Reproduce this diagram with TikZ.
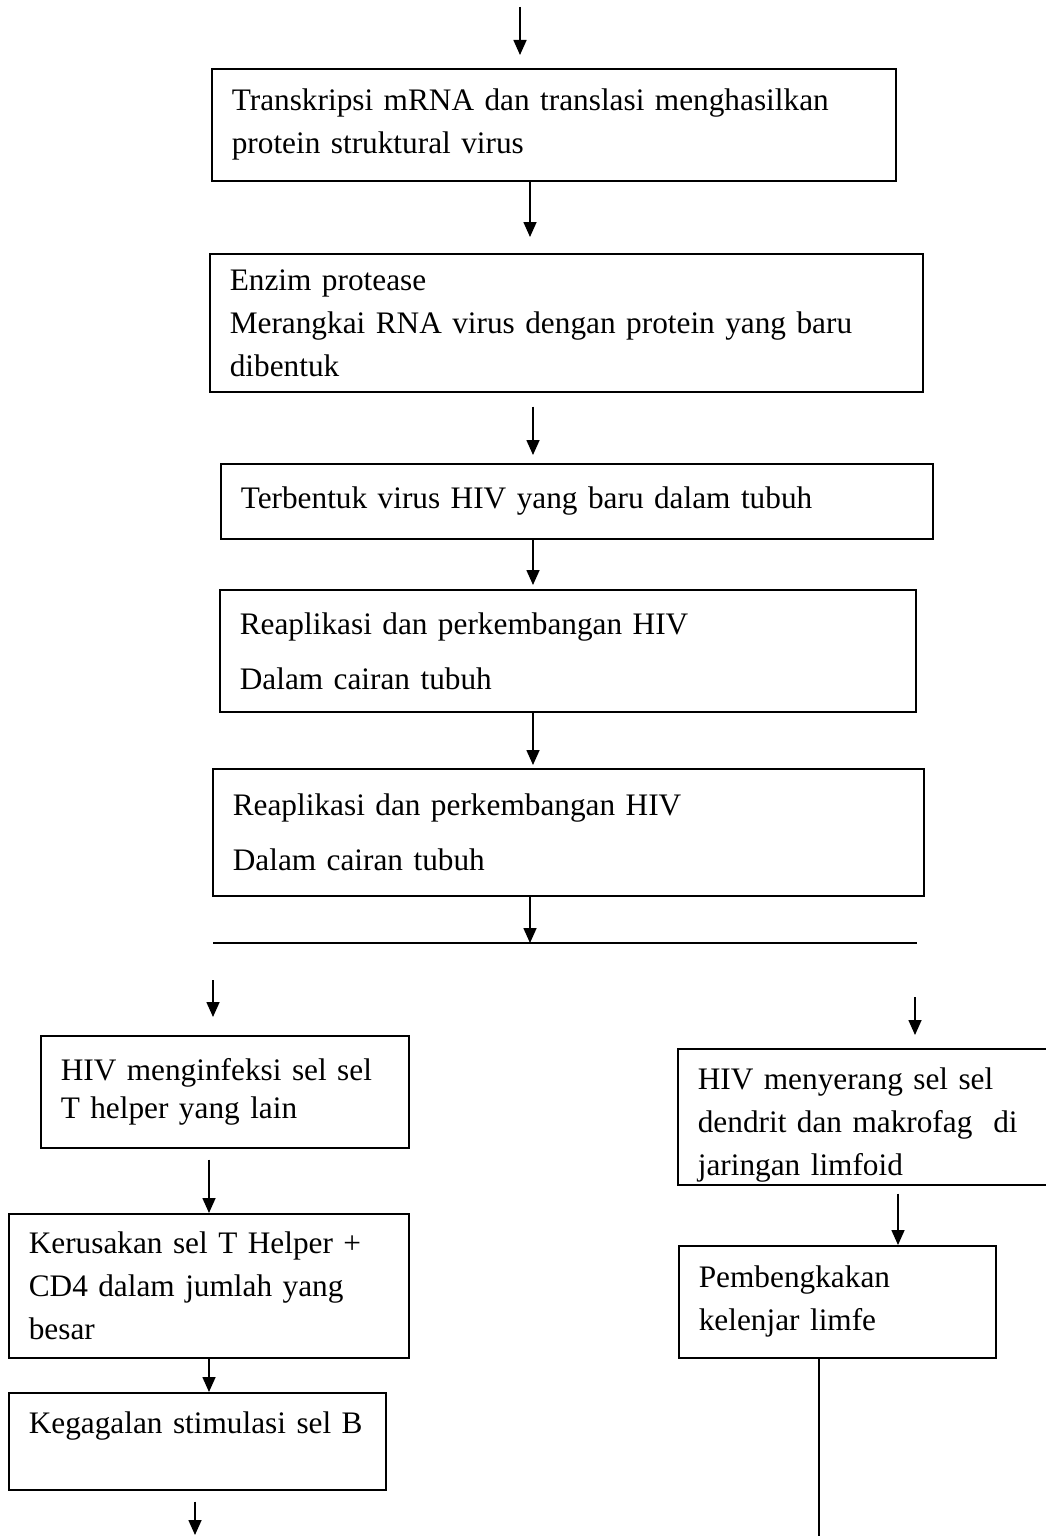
\documentclass[tikz,border=0pt]{standalone}
\usepackage{fontspec}
\setmainfont{Liberation Serif}
\usetikzlibrary{arrows.meta}

\begin{document}
\begin{tikzpicture}[
  x=1pt, y=-1pt,
  every node/.style={font=\fontsize{31.3}{43}\selectfont},
  box/.style={draw, line width=1.6pt, anchor=north west, align=left, inner xsep=20pt, inner ysep=0pt},
  arr/.style={line width=1.6pt, -{Triangle[length=15pt, width=13pt]}},
  link/.style={line width=1.6pt}
]
\useasboundingbox (0,0) rectangle (1045,1536);
% main column
\node[box, text width=644pt, minimum height=112pt] (transkripsi) at (211,68)
  {Transkripsi mRNA dan translasi menghasilkan\\protein struktural virus};
\node[box, text width=673pt, minimum height=138pt] (protease) at (209,253)
  {Enzim protease\\Merangkai RNA virus dengan protein yang baru\\dibentuk};
\node[box, text width=672pt, minimum height=75pt] (terbentuk) at (220,463)
  {Terbentuk virus HIV yang baru dalam tubuh};
\node[box, text width=656pt, minimum height=122pt] (replikasiA) at (219,589)
  {Reaplikasi dan perkembangan HIV\\[12pt]Dalam cairan tubuh};
\node[box, text width=671pt, minimum height=127pt] (replikasiB) at (212,768)
  {Reaplikasi dan perkembangan HIV\\[12pt]Dalam cairan tubuh};
% left branch
\node[box, text width=328pt, minimum height=112pt, font=\fontsize{31.3}{38}\selectfont] (infeksi) at (40,1035)
  {HIV menginfeksi sel sel\\T helper yang lain};
\node[box, text width=360pt, minimum height=144pt] (kerusakan) at (8,1213)
  {Kerusakan sel T Helper +\\CD4 dalam jumlah yang\\besar};
\node[box, text width=337pt, minimum height=97pt, text depth=37pt] (kegagalan) at (8,1392)
  {\mbox{Kegagalan stimulasi sel B}};
% right branch
\node[box, text width=343pt, minimum height=136pt] (menyerang) at (677,1048)
  {\rule{0pt}{38pt}HIV menyerang sel sel\\dendrit dan makrofag\ \ di\\jaringan limfoid};
\node[box, text width=277pt, minimum height=112pt] (bengkak) at (678,1245)
  {Pembengkakan\\kelenjar limfe};

\coordinate (mulai) at (520,7);
\coordinate (tengah) at (530,0);
\coordinate (tengahB) at (533,0);
\coordinate (cabang) at (530,943);
\coordinate (cabangW) at (213,943);
\coordinate (cabangE) at (917,943);
\coordinate (kiri) at (213,980);
\coordinate (kiriB) at (209,0);
\coordinate (akhirL) at (195,1535);
\coordinate (kanan) at (915,997);
\coordinate (kananB) at (898,0);
\coordinate (akhirR) at (819,1536);

\draw[arr, shorten >=13pt] (mulai) -- (mulai |- transkripsi.north);
\draw[arr, shorten >=16pt] (transkripsi.south -| tengah) -- (protease.north -| tengah);
\draw[arr, shorten <=14pt, shorten >=8pt] (protease.south -| tengahB) -- (terbentuk.north -| tengahB);
\draw[arr, shorten >=4pt] (terbentuk.south -| tengahB) -- (replikasiA.north -| tengahB);
\draw[arr, shorten >=3pt] (replikasiA.south -| tengahB) -- (replikasiB.north -| tengahB);
\draw[arr] (replikasiB.south -| cabang) -- (cabang);
\draw[link] (cabangW) -- (cabangE);
\draw[arr, shorten >=18pt] (kiri) -- (kiri |- infeksi.north);
\draw[arr, shorten <=11pt] (infeksi.south -| kiriB) -- (kerusakan.north -| kiriB);
\draw[arr] (kerusakan.south -| kiriB) -- (kegagalan.north -| kiriB);
\draw[arr, shorten <=11pt] (kegagalan.south -| akhirL) -- (akhirL);
\draw[arr, shorten >=13pt] (kanan) -- (kanan |- menyerang.north);
\draw[arr, shorten <=8pt] (menyerang.south -| kananB) -- (bengkak.north -| kananB);
\draw[link] (bengkak.south -| akhirR) -- (akhirR);
\end{tikzpicture}
\end{document}
